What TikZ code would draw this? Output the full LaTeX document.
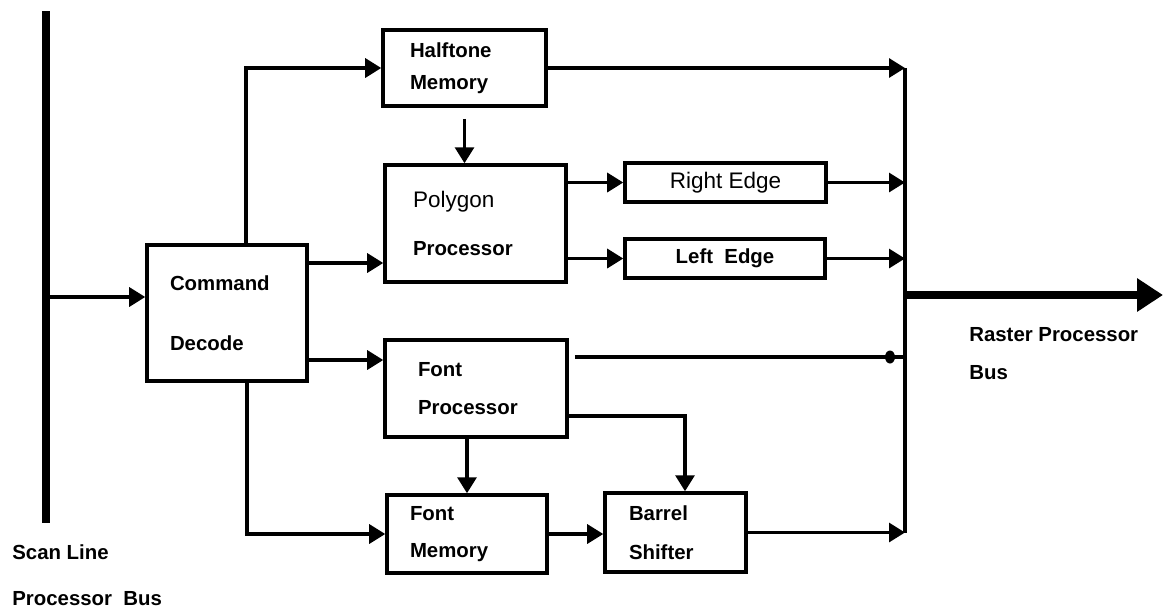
\documentclass[tikz,border=0pt]{standalone}
\usepackage{fontspec}
\setmainfont{Liberation Sans}
\usepackage{tikz}
\usetikzlibrary{shapes, arrows.meta, positioning, calc}
\newcommand{\blkfont}[1]{\fontsize{11.6}{#1}\selectfont\bfseries}
\newcommand{\thinfont}{\fontsize{12.8}{15}\selectfont\mdseries}

\begin{document}
\begin{tikzpicture}[>={Triangle[length=0.32cm, width=0.38cm]},
        blk/.style={draw, line width=2pt, align=left, inner ysep=0pt},
        wire/.style={->, line width=1.8pt},
        busline/.style={line width=2.3pt}]
        \useasboundingbox (0,0) rectangle (23.26,-12.14);

        \node[blk, minimum width=3.2cm, minimum height=2.72cm, text width=2.28cm, inner xsep=0.46cm, font=\blkfont{34pt}] (cmd) at (4.54,-6.26) {Command\\Decode};
        \node[blk, minimum width=3.26cm, minimum height=1.52cm, text width=2.18cm, inner xsep=0.54cm, font=\blkfont{18pt}] (half) at (9.29,-1.36) {Halftone\\Memory};
        \node[blk, minimum width=3.62cm, minimum height=2.34cm, text width=2.5cm, inner xsep=0.56cm, font=\blkfont{27pt}] (poly) at (9.51,-4.47) {{\thinfont Polygon}\\Processor};
        \node[blk, minimum width=4.02cm, minimum height=0.78cm, align=center, font=\thinfont] (redge) at (14.51,-3.65) {Right Edge};
        \node[blk, minimum width=4.0cm, minimum height=0.78cm, align=center, font=\blkfont{14pt}] (ledge) at (14.5,-5.17) {Left~ Edge};
        \node[blk, minimum width=3.64cm, minimum height=1.94cm, text width=2.32cm, inner xsep=0.66cm, font=\blkfont{22pt}] (fproc) at (9.52,-7.77) {Font\\Processor};
        \node[blk, minimum width=3.2cm, minimum height=1.56cm, text width=2.28cm, inner xsep=0.46cm, font=\blkfont{21.5pt}] (fmem) at (9.34,-10.68) {Font\\Memory};
        \node[blk, minimum width=2.82cm, minimum height=1.58cm, text width=1.86cm, inner xsep=0.48cm, font=\blkfont{22pt}] (barrel) at (13.51,-10.65) {Barrel\\Shifter};

        \node[anchor=west, align=left, inner sep=0pt, font=\blkfont{26pt}] (scanlbl) at (0.24,-11.5) {Scan Line\\Processor~~Bus};
        \node[anchor=west, align=left, inner sep=0pt, font=\blkfont{22pt}] (rastlbl) at (19.38,-7.07) {Raster Processor\\Bus};

        \coordinate (sbtop) at (0.92,-0.22);
        \coordinate (sbbot) at (0.92,-10.46);
        \coordinate (obx) at (18.1,0);
        \coordinate (obtop) at (half.east -| obx);
        \coordinate (obbot) at (barrel.east -| obx);
        \coordinate (rout) at (23.26,-5.9);
        \coordinate (cin) at ([yshift=3.2mm]cmd.west);
        \coordinate (pin) at ([yshift=-7.9mm]poly.west);
        \coordinate (fin) at ([yshift=5.7mm]fproc.west);
        \coordinate (fout) at ([xshift=1.2mm, yshift=6.3mm]fproc.east);

        \draw[line width=4.1pt] (sbtop) -- (sbbot);
        \draw[busline] (obtop) -- (obbot);
        \draw[-{Triangle[length=0.52cm, width=0.64cm]}, line width=4pt] (obtop |- rout) -- (rout);

        \draw[wire] (cin -| sbtop) -- (cin);
        \draw[wire] ([xshift=3.8mm]cmd.north) |- (half.west);
        \draw[wire] (cmd.east |- pin) -- (pin);
        \draw[wire] (cmd.east |- fin) -- (fin);
        \draw[wire] ([xshift=4mm]cmd.south) |- (fmem.west);

        \draw[wire] ([yshift=-2.2mm]half.south) -- (half.south |- poly.north);
        \draw[wire] (poly.east |- redge.west) -- (redge.west);
        \draw[wire] (poly.east |- ledge.west) -- (ledge.west);
        \draw[wire] ([yshift=-5.5mm]fproc.east) -| ([xshift=1.9mm]barrel.north);
        \draw[wire] (fproc.south -| fmem.north) -- (fmem.north);
        \draw[wire] (fmem.east) -- (fmem.east -| barrel.west);

        \draw[wire] (half.east) -- (obtop);
        \draw[wire] (redge.east) -- (redge.east -| obx);
        \draw[wire] (ledge.east) -- (ledge.east -| obx);
        \draw[wire] (barrel.east) -- (obbot);
        \draw[line width=1.8pt] (fout) -- (fout -| obx);
        \node[ellipse, fill, minimum width=0.2cm, minimum height=0.26cm, inner sep=0pt] (dot) at ($(fout -| obx)+(-0.3,0)$) {};
    \end{tikzpicture}
\end{document}
